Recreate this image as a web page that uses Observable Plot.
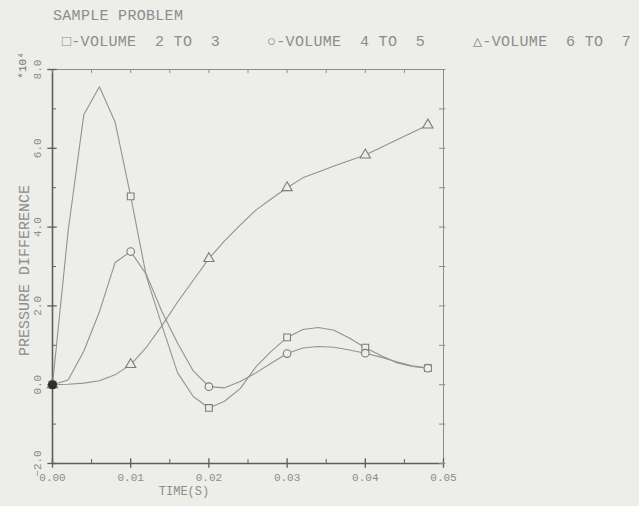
<!DOCTYPE html>
<html>
<head>
<meta charset="utf-8">
<script src="https://cdn.jsdelivr.net/npm/d3@7"></script>
<script src="https://cdn.jsdelivr.net/npm/@observablehq/plot@0.6"></script>
<style>
  html, body { margin: 0; padding: 0; background: #ededea; }
  #wrap { width: 639px; height: 506px; position: relative; overflow: hidden; }
  #head { position: relative; height: 55px; font-family: "Liberation Mono", "DejaVu Sans Mono", monospace; color: #8c8c8c; font-size: 15px; letter-spacing: 0.3px; }
  #head span { position: absolute; white-space: pre; line-height: 1; }
</style>
</head>
<body>
<div id="wrap">
  <div id="head">
    <span id="title" style="left:53px; top:9px;"></span>
    <span class="leg" style="left:62px; top:35px;"></span>
    <span class="leg" style="left:267px; top:35px;"></span>
    <span class="leg" style="left:473px; top:35px;"></span>
  </div>
  <div id="chart"></div>
</div>
<script>
// ---- data ----
const titleText = "SAMPLE PROBLEM";
const seriesNames = ["VOLUME  2 TO  3", "VOLUME  4 TO  5", "VOLUME  6 TO  7"];
const seriesGlyphs = ["\u25A1", "\u25CB", "\u25B3"];
const seriesSymbols = ["square", "circle", "triangle"];

const times = [0, 0.002, 0.004, 0.006, 0.008, 0.010, 0.012, 0.014, 0.016, 0.018,
               0.020, 0.022, 0.024, 0.026, 0.028, 0.030, 0.032, 0.034, 0.036, 0.038,
               0.040, 0.042, 0.044, 0.046, 0.048];
const vol23 = [0, 3.9, 6.85, 7.56, 6.67, 4.78, 2.75, 1.5, 0.3, -0.3,
               -0.59, -0.42, -0.1, 0.45, 0.85, 1.2, 1.4, 1.45, 1.38, 1.18,
               0.94, 0.74, 0.56, 0.46, 0.42];
const vol45 = [0, 0.12, 0.85, 1.85, 3.1, 3.38, 2.8, 1.85, 1.05, 0.35,
               -0.05, -0.08, 0.08, 0.3, 0.55, 0.79, 0.93, 0.97, 0.95, 0.88,
               0.8, 0.7, 0.58, 0.48, 0.42];
const vol67 = [0, 0.01, 0.04, 0.1, 0.25, 0.51, 0.95, 1.5, 2.1, 2.65,
               3.2, 3.65, 4.05, 4.43, 4.72, 5.0, 5.25, 5.4, 5.55, 5.69,
               5.83, 6.02, 6.21, 6.4, 6.59];
const markerTimes = [0, 0.010, 0.020, 0.030, 0.040, 0.048];

const xMajor = [0, 0.01, 0.02, 0.03, 0.04, 0.05];
const xMinor = [0.005, 0.015, 0.025, 0.035, 0.045];
const yMajor = [-2, 0, 2, 4, 6, 8];
const yMinor = [-1, 1, 3, 5, 7];
const exponentLabel = "*10\u2074";
const xLabel = "TIME(S)";
const yLabel = "PRESSURE DIFFERENCE";

// ---- build ----
document.getElementById("title").textContent = titleText;
document.querySelectorAll(".leg").forEach((el, i) => {
  el.textContent = seriesGlyphs[i] + "-" + seriesNames[i];
});

const allSeries = [vol23, vol45, vol67];
const rows = [];
allSeries.forEach((vals, s) => {
  vals.forEach((v, i) => rows.push({series: s, t: times[i], v}));
});
const isMarker = d => markerTimes.some(m => Math.abs(m - d.t) < 1e-9);
const markerRows = rows.filter(isMarker);

const axisDark = "#5e5e5e";
const axisLight = "#8c8c8c";
const lineGray = "#929292";
const textGray = "#8c8c8c";
const font = "Liberation Mono, DejaVu Sans Mono, monospace";

const xAll = [...xMajor, ...xMinor].sort((a, b) => a - b);
const yAll = [...yMajor, ...yMinor].sort((a, b) => a - b);

const chart = Plot.plot({
  width: 639,
  height: 451,
  marginLeft: 52,
  marginRight: 196,
  marginTop: 14,
  marginBottom: 43,
  x: {domain: [0, 0.05], axis: null},
  y: {domain: [-2, 8], axis: null},
  style: {background: "transparent", fontFamily: font, overflow: "visible"},
  marks: [
    // frame
    Plot.ruleX([0.05], {stroke: axisLight, strokeWidth: 1}),
    Plot.ruleY([8], {stroke: axisLight, strokeWidth: 1}),
    Plot.ruleX([0], {stroke: axisDark, strokeWidth: 1.6}),
    Plot.ruleY([-2], {stroke: axisDark, strokeWidth: 1.6}),
    // bottom ticks
    Plot.ruleX(xMajor, {x: d => d, y1: -2.12, y2: -1.88, stroke: axisDark, strokeWidth: 1.3}),
    Plot.ruleX(xMinor, {x: d => d, y1: -2, y2: -1.9, stroke: axisDark, strokeWidth: 1}),
    // top ticks
    Plot.ruleX(xAll, {x: d => d, y1: 8, y2: 7.9, stroke: axisLight, strokeWidth: 1}),
    // left ticks
    Plot.ruleY(yMajor, {y: d => d, x1: -0.0006, x2: 0.0006, stroke: axisDark, strokeWidth: 1.3}),
    Plot.ruleY(yMinor, {y: d => d, x1: 0, x2: 0.0005, stroke: axisDark, strokeWidth: 1}),
    // right ticks
    Plot.ruleY(yAll, {y: d => d, x1: 0.0495, x2: 0.0503, stroke: axisLight, strokeWidth: 1}),
    // tick labels
    Plot.text(xMajor, {x: d => d, y: -2, dy: 14, text: d => d3.format(".2f")(d),
      fill: textGray, fontSize: 11, fontFamily: font, textAnchor: "middle"}),
    Plot.text(yMajor, {x: 0, y: d => d, dx: -15, rotate: -90, text: d => d3.format(".1f")(d),
      fill: textGray, fontSize: 11, fontFamily: font, textAnchor: "middle"}),
    Plot.text([exponentLabel], {x: 0, y: 8, dx: -30, dy: -4, rotate: -90, text: d => d,
      fill: "#777", fontSize: 11, fontFamily: font, textAnchor: "middle"}),
    Plot.text([yLabel], {frameAnchor: "left", dx: -28, dy: 4, rotate: -90, text: d => d,
      fill: textGray, fontSize: 15, fontFamily: font, textAnchor: "middle"}),
    Plot.text([xLabel], {frameAnchor: "bottom", dx: -64, dy: 31, text: d => d,
      fill: textGray, fontSize: 12, fontFamily: font, textAnchor: "middle", letterSpacing: 1.5}),
    // curves
    Plot.line(rows, {x: "t", y: "v", z: "series", stroke: lineGray, strokeWidth: 1.1}),
    // markers
    Plot.dot(markerRows, {x: "t", y: "v", symbol: d => seriesSymbols[d.series],
      r: 3.8, stroke: "#7c7c7c", strokeWidth: 1.1, fill: "#ededea"}),
    // origin blob
    Plot.dot(rows.filter(d => d.t === 0 && d.series === 0), {x: "t", y: "v", r: 4.5, fill: "#2e2e2e"})
  ],
  symbol: {type: "identity"}
});
document.getElementById("chart").appendChild(chart);
</script>
</body>
</html>
